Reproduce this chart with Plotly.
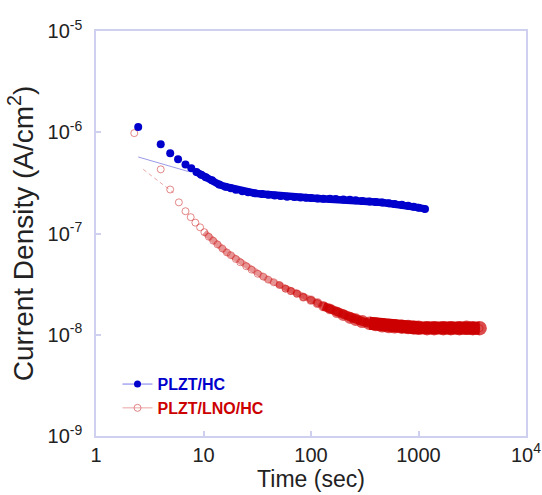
import math
import plotly.graph_objects as go

# ---- data ----
hc_t = [2.47, 4.0, 4.9, 5.8, 6.8, 7.7, 8.6, 9.5, 10.5, 12, 14, 16, 18, 20, 23, 26, 30, 35, 40, 46,
        52, 60, 70, 80, 90, 100, 115, 130, 150, 170, 200, 230, 260, 300, 350, 400, 460, 530, 600,
        700, 800, 900, 1000, 1150]
hc_j = [1.13e-6, 7.6e-7, 6.2e-7, 5.4e-7, 4.8e-7, 4.4e-7, 4.05e-7, 3.8e-7, 3.6e-7, 3.35e-7, 3.05e-7,
        2.9e-7, 2.8e-7, 2.7e-7, 2.62e-7, 2.55e-7, 2.5e-7, 2.45e-7, 2.41e-7, 2.37e-7, 2.34e-7, 2.31e-7,
        2.29e-7, 2.27e-7, 2.25e-7, 2.24e-7, 2.22e-7, 2.21e-7, 2.2e-7, 2.19e-7, 2.17e-7, 2.15e-7,
        2.13e-7, 2.1e-7, 2.07e-7, 2.05e-7, 2.02e-7, 1.99e-7, 1.96e-7, 1.92e-7, 1.88e-7, 1.84e-7,
        1.8e-7, 1.75e-7]

lno_t = [2.27, 4.0, 4.9, 5.9, 6.8, 7.6, 8.4, 9.3, 10.2, 11.2, 12.3, 13.5, 15, 16.5, 18, 20, 22, 25,
         28, 32, 36, 40, 45, 51, 58, 65, 74, 85, 100, 115, 130, 150, 175, 200, 230, 260, 300, 350,
         400, 460, 530, 600, 700, 800, 900, 1000, 1200, 1400, 1700, 2000, 2400, 2800, 3200, 3700]
lno_j = [9.8e-7, 4.3e-7, 2.72e-7, 2.03e-7, 1.66e-7, 1.45e-7, 1.28e-7, 1.15e-7, 1.03e-7, 9.3e-8,
         8.5e-8, 7.8e-8, 7.1e-8, 6.5e-8, 6.1e-8, 5.6e-8, 5.2e-8, 4.75e-8, 4.4e-8, 4.0e-8, 3.75e-8,
         3.5e-8, 3.3e-8, 3.1e-8, 2.85e-8, 2.7e-8, 2.55e-8, 2.35e-8, 2.2e-8, 2.05e-8, 1.92e-8, 1.8e-8,
         1.66e-8, 1.56e-8, 1.47e-8, 1.41e-8, 1.35e-8, 1.3e-8, 1.27e-8, 1.24e-8, 1.22e-8, 1.21e-8,
         1.2e-8, 1.19e-8, 1.18e-8, 1.17e-8, 1.16e-8, 1.16e-8, 1.16e-8, 1.16e-8, 1.16e-8, 1.17e-8,
         1.16e-8, 1.16e-8]

hc_fit_t = [2.47, 7.2]
hc_fit_j = [5.7e-7, 4.1e-7]
lno_fit_t = [2.75, 5.25]
lno_fit_j = [4.3e-7, 2.53e-7]

x_tickvals = [1, 10, 100, 1000, 10000]
x_ticktext = ["1", "10", "100", "1000", "10<sup>4</sup>"]
y_tickvals = [1e-9, 1e-8, 1e-7, 1e-6, 1e-5]
y_ticktext = ["10<sup>-9</sup>", "10<sup>-8</sup>", "10<sup>-7</sup>", "10<sup>-6</sup>", "10<sup>-5</sup>"]

BLUE = "#0000CC"
RED = "#CC0000"
FRAME = "#CFCFEF"
FONT = "Liberation Sans, Arial, sans-serif"

fig = go.Figure()

# thin fit lines
fig.add_trace(go.Scatter(x=hc_fit_t, y=hc_fit_j, mode="lines",
                         line=dict(color="rgba(110,110,220,0.7)", width=1), showlegend=False))
fig.add_trace(go.Scatter(x=lno_fit_t, y=lno_fit_j, mode="lines",
                         line=dict(color="rgba(225,130,130,0.7)", width=1, dash="4px,3px"),
                         showlegend=False))

def first_at(ts, t0):
    return next(i for i, t in enumerate(ts) if t >= t0)

# red series: open markers + a band that gets denser / thicker with time
k10 = first_at(lno_t, 10)
fig.add_trace(go.Scatter(x=lno_t[k10:], y=lno_j[k10:], mode="lines",
                         line=dict(color="rgba(210,40,40,0.5)", width=6), showlegend=False))
fig.add_trace(go.Scatter(x=lno_t, y=lno_j, mode="markers",
                         marker=dict(symbol="circle-open", size=7,
                                     color="rgba(205,40,40,0.55)", line=dict(width=1)),
                         showlegend=False))
k120 = first_at(lno_t, 120)
fig.add_trace(go.Scatter(x=lno_t[k120:], y=lno_j[k120:], mode="lines",
                         line=dict(color="rgba(204,0,0,0.85)", width=9), showlegend=False))
k350 = first_at(lno_t, 350)
fig.add_trace(go.Scatter(x=lno_t[k350:], y=lno_j[k350:], mode="lines",
                         line=dict(color=RED, width=13), showlegend=False))

def band_frac(t, t0=50.0, t1=450.0):
    return max(0.0, min(1.0, (math.log10(t) - math.log10(t0)) / (math.log10(t1) - math.log10(t0))))

k50 = first_at(lno_t, 50)
tail_t = lno_t[k50:]
tail_j = lno_j[k50:]
tail_size = [7 + 7.5 * band_frac(t) for t in tail_t]
tail_col = [f"rgba(204,0,0,{0.55 + 0.45 * band_frac(t):.2f})" for t in tail_t]
fig.add_trace(go.Scatter(x=tail_t, y=tail_j, mode="markers",
                         marker=dict(symbol="circle", size=tail_size, color=tail_col,
                                     line=dict(width=0)),
                         showlegend=False))

# blue series
k9 = first_at(hc_t, 8.6)
fig.add_trace(go.Scatter(x=hc_t[k9:], y=hc_j[k9:], mode="lines",
                         line=dict(color=BLUE, width=7.5), showlegend=False))
fig.add_trace(go.Scatter(x=hc_t, y=hc_j, mode="markers",
                         marker=dict(symbol="circle", size=8, color=BLUE),
                         showlegend=False))

# legend entries
fig.add_trace(go.Scatter(x=[None], y=[None], mode="lines+markers",
                         name="<b><span style='color:#0000CC'>PLZT/HC</span></b>",
                         line=dict(color="rgba(90,90,230,0.8)", width=1),
                         marker=dict(symbol="circle", size=7, color=BLUE)))
fig.add_trace(go.Scatter(x=[None], y=[None], mode="lines+markers",
                         name="<b><span style='color:#CC0000'>PLZT/LNO/HC</span></b>",
                         line=dict(color="rgba(230,140,140,0.8)", width=1),
                         marker=dict(symbol="circle-open", size=7, color="rgba(220,120,120,0.9)")))

axis_common = dict(showline=True, mirror=True, linecolor=FRAME, linewidth=1.5,
                   ticks="inside", ticklen=5, tickcolor=FRAME, tickwidth=1.5,
                   showgrid=False, zeroline=False)

fig.update_xaxes(type="log", range=[0, 4], tickvals=x_tickvals, ticktext=x_ticktext,
                 tickfont=dict(family=FONT, size=20, color="#222222"),
                 title=dict(text="Time (sec)", font=dict(family=FONT, size=23, color="#222222"),
                            standoff=6),
                 **axis_common)
fig.update_yaxes(type="log", range=[-9, -5], tickvals=y_tickvals, ticktext=y_ticktext,
                 tickfont=dict(family=FONT, size=20, color="#222222"),
                 ticklabelstandoff=8,
                 title=dict(text="Current Density (A/cm<sup>2</sup>)",
                            font=dict(family=FONT, size=28, color="#222222"), standoff=6),
                 **axis_common)

fig.update_layout(
    width=542, height=495,
    margin=dict(l=96, r=16, t=31, b=59, autoexpand=False),
    paper_bgcolor="white", plot_bgcolor="white",
    font=dict(family=FONT),
    legend=dict(x=0.05, y=0.17, xanchor="left", yanchor="top",
                font=dict(family=FONT, size=16), bgcolor="rgba(0,0,0,0)",
                itemwidth=30, tracegroupgap=0),
)

fig.write_html("out.html")
